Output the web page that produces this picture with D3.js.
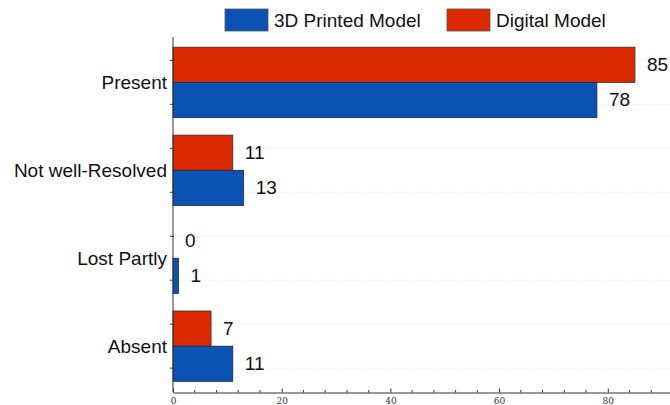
<!DOCTYPE html>
<html>
<head>
<meta charset="utf-8">
<script src="https://cdn.jsdelivr.net/npm/d3@7"></script>
<style>
  html, body { margin: 0; padding: 0; background: #fff; }
  svg { display: block; }
  .lbl { font-family: "Liberation Sans", Arial, sans-serif; fill: #111; }
  .xtick text { font-family: "DejaVu Serif", "Liberation Serif", serif; font-size: 9px; fill: #333; }
</style>
</head>
<body>
<div id="chart"></div>
<script>

// chart values
var categories = ["Present", "Not well-Resolved", "Lost Partly", "Absent"];
var printedValues = [78, 13, 1, 11];
var digitalValues = [85, 11, 0, 7];
var seriesNames = ["3D Printed Model", "Digital Model"];
var xTickValues = [0, 20, 40, 60, 80];

var width = 670, height = 405;
var blue = "#0a52b4", red = "#dd2900";

var svg = d3.select("#chart").append("svg")
    .attr("width", width)
    .attr("height", height);

// scales
var x = d3.scaleLinear().domain([0, 91.45]).range([173, 670]);
var y = d3.scaleLinear().domain([-0.516, 3.527]).range([37, 392.5]);

// dotted grid lines at the tick positions
var tickPos = [];
categories.forEach(function (c, i) {
    tickPos.push(i - 0.25);
    tickPos.push(i + 0.25);
});

svg.append("g").selectAll("line")
    .data(tickPos)
    .enter().append("line")
    .attr("x1", x(0)).attr("x2", width)
    .attr("y1", function (d) { return y(d); })
    .attr("y2", function (d) { return y(d); })
    .attr("stroke", "#d8d8d8")
    .attr("stroke-width", 0.8)
    .attr("stroke-dasharray", "1,2");

// bars: digital on top half, printed on bottom half
var bars = svg.append("g");

bars.selectAll("rect.digital")
    .data(digitalValues)
    .enter().append("rect")
    .attr("class", "digital")
    .attr("x", x(0))
    .attr("y", function (d, i) { return y(i - 0.4); })
    .attr("width", function (d) { return x(d) - x(0); })
    .attr("height", function (d, i) { return y(i) - y(i - 0.4); })
    .attr("fill", red)
    .attr("stroke", function (d) { return d > 0 ? "#3a2a2a" : "none"; })
    .attr("stroke-width", 0.8);

bars.selectAll("rect.printed")
    .data(printedValues)
    .enter().append("rect")
    .attr("class", "printed")
    .attr("x", x(0))
    .attr("y", function (d, i) { return y(i); })
    .attr("width", function (d) { return x(d) - x(0); })
    .attr("height", function (d, i) { return y(i + 0.4) - y(i); })
    .attr("fill", blue)
    .attr("stroke", function (d) { return d > 0 ? "#1d2a44" : "none"; })
    .attr("stroke-width", 0.8);

// value labels
var vals = svg.append("g").attr("class", "lbl").style("font-size", "19px");

vals.selectAll("text.dv")
    .data(digitalValues)
    .enter().append("text")
    .attr("x", function (d) { return x(d) + 12; })
    .attr("y", function (d, i) { return y(i - 0.2); })
    .attr("dominant-baseline", "central")
    .text(function (d) { return d; });

vals.selectAll("text.pv")
    .data(printedValues)
    .enter().append("text")
    .attr("x", function (d) { return x(d) + 12; })
    .attr("y", function (d, i) { return y(i + 0.2); })
    .attr("dominant-baseline", "central")
    .text(function (d) { return d; });

// category labels
svg.append("g").attr("class", "lbl").style("font-size", "19px")
    .selectAll("text")
    .data(categories)
    .enter().append("text")
    .attr("x", x(0) - 6)
    .attr("y", function (d, i) { return y(i); })
    .attr("text-anchor", "end")
    .attr("dominant-baseline", "central")
    .text(function (d) { return d; });

// y axis line + ticks
svg.append("line")
    .attr("x1", x(0)).attr("x2", x(0))
    .attr("y1", y.range()[0]).attr("y2", y.range()[1])
    .attr("stroke", "#333").attr("stroke-width", 1);

svg.append("g").selectAll("line")
    .data(tickPos)
    .enter().append("line")
    .attr("x1", x(0) - 3).attr("x2", x(0) + 1)
    .attr("y1", function (d) { return y(d); })
    .attr("y2", function (d) { return y(d); })
    .attr("stroke", "#333");

// x axis with inward ticks
var xAxis = d3.axisBottom(x).tickValues(xTickValues).tickSizeInner(-4).tickSizeOuter(0).tickPadding(5);

var gx = svg.append("g")
    .attr("class", "xtick")
    .attr("transform", "translate(0," + y.range()[1] + ")")
    .call(xAxis);
gx.select(".domain").attr("stroke", "#333");
gx.selectAll(".tick line").attr("stroke", "#333");

var minor = d3.range(0, 92, 4).filter(function (v) { return v % 20 !== 0; });
gx.append("g").selectAll("line")
    .data(minor)
    .enter().append("line")
    .attr("x1", function (d) { return x(d); })
    .attr("x2", function (d) { return x(d); })
    .attr("y1", 0).attr("y2", -2.5)
    .attr("stroke", "#333");

// legend
var legend = svg.append("g").attr("class", "lbl").style("font-size", "19px");
var legendItems = [
    { name: seriesNames[0], color: blue, bx: 225, tx: 274 },
    { name: seriesNames[1], color: red, bx: 447, tx: 496 }
];
legendItems.forEach(function (d) {
    legend.append("rect")
        .attr("x", d.bx).attr("y", 9)
        .attr("width", 43).attr("height", 22)
        .attr("fill", d.color)
        .attr("stroke", "#555").attr("stroke-width", 0.8);
    legend.append("text")
        .attr("x", d.tx).attr("y", 20)
        .attr("dominant-baseline", "central")
        .text(d.name);
});

</script>
</body>
</html>
